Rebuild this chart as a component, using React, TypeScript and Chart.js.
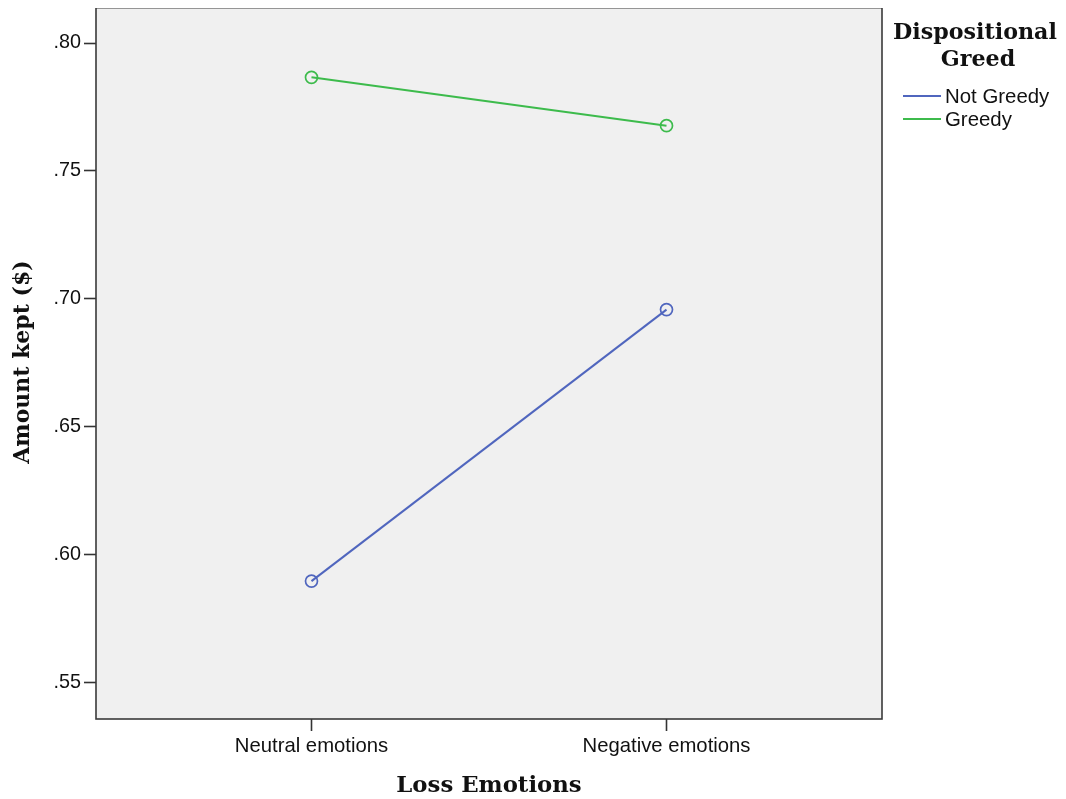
import React, { useEffect, useRef } from "react";
import { Chart, registerables } from "chart.js";

Chart.register(...registerables);

const categories = ["Neutral emotions", "Negative emotions"];
const notGreedy = [0.5897, 0.6958];
const greedy = [0.7866, 0.7677];
const yTicks = [0.55, 0.6, 0.65, 0.7, 0.75, 0.8];
const seriesNames = ["Not Greedy", "Greedy"];
const legendTitle = ["Dispositional", "Greed"];
const xTitle = "Loss Emotions";
const yTitle = "Amount kept ($)";

const BLUE = "#5066be";
const GREEN = "#3dbb4c";
const SANS = "'Liberation Sans', Arial, sans-serif";
const SERIF = "'DejaVu Serif', serif";

const decorPlugin = {
  id: "decor",
  beforeDraw(chart: any) {
    const { ctx, chartArea: a } = chart;
    ctx.save();
    ctx.fillStyle = "#f0f0f0";
    ctx.fillRect(a.left, a.top, a.right - a.left, a.bottom - a.top);
    ctx.restore();
  },
  afterDraw(chart: any) {
    const { ctx, chartArea: a } = chart;
    ctx.save();
    // frame
    ctx.strokeStyle = "#3a3a3a";
    ctx.lineWidth = 1.6;
    ctx.strokeRect(a.left, a.top, a.right - a.left, a.bottom - a.top);

    // axis titles
    ctx.fillStyle = "#111";
    ctx.textAlign = "center";
    ctx.textBaseline = "middle";
    ctx.font = `bold 22.8px ${SERIF}`;
    ctx.fillText(xTitle, 489, 786);
    ctx.font = `bold 22px ${SERIF}`;
    ctx.save();
    ctx.translate(23, 362);
    ctx.rotate(-Math.PI / 2);
    ctx.fillText(yTitle, 0, 0);
    ctx.restore();

    // legend title
    ctx.font = `bold 22.2px ${SERIF}`;
    ctx.textBaseline = "alphabetic";
    ctx.fillText(legendTitle[0], 975, 39);
    ctx.fillText(legendTitle[1], 978, 66);

    // legend items
    const colors = [BLUE, GREEN];
    const rows = [96, 119];
    ctx.font = `20.4px ${SANS}`;
    ctx.textAlign = "left";
    ctx.textBaseline = "middle";
    seriesNames.forEach((name, i) => {
      ctx.strokeStyle = colors[i];
      ctx.lineWidth = 2;
      ctx.beginPath();
      ctx.moveTo(903, rows[i]);
      ctx.lineTo(941, rows[i]);
      ctx.stroke();
      ctx.fillStyle = "#111";
      ctx.fillText(name, 945, rows[i] + 1);
    });
    ctx.restore();
  },
};

export default function App() {
  const ref = useRef<HTMLCanvasElement | null>(null);

  useEffect(() => {
    if (!ref.current) return;
    const mk = (vals: number[]) => vals.map((y, i) => ({ x: i, y }));
    const ds = (label: string, vals: number[], color: string) => ({
      label,
      data: mk(vals),
      borderColor: color,
      backgroundColor: "rgba(0,0,0,0)",
      borderWidth: 2,
      pointRadius: 6,
      pointBorderWidth: 1.7,
      pointBorderColor: color,
      pointBackgroundColor: "rgba(0,0,0,0)",
    });
    const chart = new Chart(ref.current, {
      type: "line",
      data: {
        datasets: [ds(seriesNames[0], notGreedy, BLUE), ds(seriesNames[1], greedy, GREEN)],
      },
      options: {
        responsive: false,
        animation: false,
        devicePixelRatio: 1,
        layout: { padding: { top: 7, right: 184, bottom: 0, left: 0 } },
        plugins: { legend: { display: false }, tooltip: { enabled: false } },
        scales: {
          x: {
            type: "linear",
            min: -0.607,
            max: 1.607,
            afterBuildTicks: (s: any) => {
              s.ticks = categories.map((_, i) => ({ value: i }));
            },
            afterFit: (s: any) => {
              s.height = 80;
              s.paddingLeft = 0;
              s.paddingRight = 0;
            },
            ticks: {
              callback: (v: any) => categories[Math.round(Number(v))] ?? "",
              color: "#111",
              font: { family: SANS, size: 20.3 },
              padding: 3,
              maxRotation: 0,
              autoSkip: false,
            },
            grid: {
              display: true,
              drawOnChartArea: false,
              drawTicks: true,
              tickLength: 12,
              tickColor: "#333",
              tickWidth: 1.6,
            },
            border: { display: false },
          },
          y: {
            type: "linear",
            min: 0.5358,
            max: 0.8138,
            afterBuildTicks: (s: any) => {
              s.ticks = yTicks.map((v) => ({ value: v }));
            },
            afterFit: (s: any) => {
              s.width = 96;
              s.paddingTop = 0;
              s.paddingBottom = 0;
            },
            ticks: {
              callback: (v: any) => Number(v).toFixed(2).replace(/^0/, ""),
              color: "#111",
              font: { family: SANS, size: 19.8 },
              padding: 3,
            },
            grid: {
              display: true,
              drawOnChartArea: false,
              drawTicks: true,
              tickLength: 12,
              tickColor: "#333",
              tickWidth: 1.6,
            },
            border: { display: false },
          },
        },
      },
      plugins: [decorPlugin],
    } as any);
    return () => chart.destroy();
  }, []);

  return (
    <div style={{ margin: "-8px 0 0 -8px", width: 1066, height: 799, background: "#fff" }}>
      <canvas ref={ref} width={1066} height={799} style={{ display: "block" }} />
    </div>
  );
}
